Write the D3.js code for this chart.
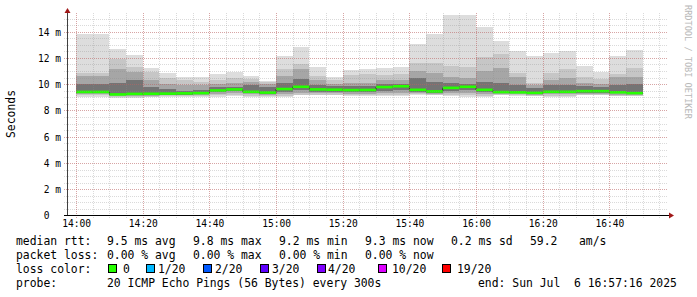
<!DOCTYPE html>
<html>
<head>
<meta charset="utf-8">
<script src="https://cdn.jsdelivr.net/npm/d3@7"></script>
<style>
  body { margin: 0; background: #fff; }
  text { font-family: "DejaVu Sans Mono", monospace; white-space: pre; }
</style>
</head>
<body>
<svg id="chart" width="697" height="297"></svg>
<script>
// 5 minute slots (start time of each smoke column)
var slots = ["14:00","14:05","14:10","14:15","14:20","14:25","14:30","14:35","14:40","14:45",
             "14:50","14:55","15:00","15:05","15:10","15:15","15:20","15:25","15:30","15:35",
             "15:40","15:45","15:50","15:55","16:00","16:05","16:10","16:15","16:20","16:25",
             "16:30","16:35","16:40","16:45"];

// smoke levels in ms, outer to inner
var pingMax = [13.84,13.84,12.67,12.21,11.25,10.82,10.56,10.52,10.77,10.94,10.60,10.26,12.14,12.85,11.32,10.56,11.07,11.15,11.25,11.32,
               13.05,13.81,15.28,15.28,14.37,13.30,12.52,12.14,12.39,12.54,11.40,10.94,12.14,12.60];
var pingHi2 = [10.87,10.87,11.89,11.32,10.94,10.44,10.31,10.20,10.35,10.50,10.40,10.15,11.12,11.53,10.60,10.30,10.70,10.80,10.70,10.80,
               11.58,11.58,11.40,11.28,12.04,12.27,10.82,10.10,10.86,11.15,10.52,10.40,10.77,11.25];
var pingHi3 = [10.62,10.62,11.12,10.94,10.31,10.00, 9.95, 9.90,10.05,10.10,10.18,10.00,10.60,11.12,10.30,10.05,10.06,10.06,10.30,10.35,
               11.00,10.87,10.55,10.45,11.02,11.20,10.56, 9.90,10.30,10.44,10.10,10.00,10.52,10.56];
var pingHi4 = [10.00,10.00,10.10,10.31, 9.80, 9.60, 9.50, 9.55, 9.75, 9.80, 9.90, 9.80,10.10,10.40, 9.95, 9.85, 9.85, 9.85,10.00,10.05,
               10.50,10.20,10.10,10.05,10.18,10.10, 9.90, 9.70, 9.90, 9.95, 9.85, 9.80, 9.95,10.00];
var pingMed = [ 9.41, 9.41, 9.22, 9.26, 9.27, 9.28, 9.30, 9.32, 9.52, 9.60, 9.42, 9.36, 9.63, 9.80, 9.60, 9.58, 9.55, 9.56, 9.78, 9.84,
                9.57, 9.45, 9.72, 9.80, 9.57, 9.40, 9.38, 9.34, 9.42, 9.42, 9.47, 9.47, 9.38, 9.32];
var pingLo4 = [ 9.30, 9.30, 9.14, 9.16, 9.18, 9.20, 9.20, 9.22, 9.38, 9.45, 9.32, 9.25, 9.40, 9.55, 9.42, 9.40, 9.38, 9.38, 9.50, 9.55,
                9.40, 9.35, 9.50, 9.55, 9.40, 9.30, 9.30, 9.25, 9.32, 9.32, 9.35, 9.35, 9.30, 9.25];
var pingLo3 = [ 9.22, 9.22, 9.08, 9.10, 9.12, 9.14, 9.14, 9.15, 9.26, 9.32, 9.22, 9.16, 9.25, 9.35, 9.30, 9.30, 9.26, 9.26, 9.32, 9.35,
                9.30, 9.27, 9.32, 9.35, 9.25, 9.24, 9.22, 9.18, 9.22, 9.22, 9.26, 9.26, 9.20, 9.18];
var pingLo2 = [ 9.14, 9.14, 9.02, 9.04, 9.06, 9.08, 9.08, 9.09, 9.14, 9.20, 9.12, 9.08, 9.12, 9.20, 9.20, 9.20, 9.16, 9.16, 9.18, 9.20,
                9.22, 9.20, 9.18, 9.18, 9.12, 9.20, 9.16, 9.12, 9.12, 9.12, 9.20, 9.20, 9.12, 9.12];
var pingMin = [ 9.05, 9.05, 8.96, 8.98, 9.00, 9.02, 9.02, 9.02, 9.03, 9.08, 9.04, 9.02, 9.04, 9.15, 9.15, 9.15, 9.08, 9.08, 9.08, 9.08,
                9.20, 9.15, 9.08, 9.03, 9.03, 9.15, 9.12, 9.08, 9.03, 9.03, 9.15, 9.15, 9.08, 9.08];

var xTickLabels = ["14:00","14:20","14:40","15:00","15:20","15:40","16:00","16:20","16:40"];
var yTickValues = [0, 2, 4, 6, 8, 10, 12, 14];
var yTickLabels = ["0  ", "2 m", "4 m", "6 m", "8 m", "10 m", "12 m", "14 m"];

var rttStats = ["9.5 ms avg", "9.8 ms max", "9.2 ms min", "9.3 ms now", "0.2 ms sd"];
var lossStats = ["0.00 % avg", "0.00 % max", "0.00 % min", "0.00 % now"];
var lossLabels = ["0", "1/20", "2/20", "3/20", "4/20", "10/20", "19/20"];
var lossColors = ["#26ff00", "#00b8ff", "#0059ff", "#5e00ff", "#7e00ff", "#dd00ff", "#ff0000"];

var svg = d3.select("#chart");
svg.append("rect").attr("width", 697).attr("height", 297).attr("fill", "#fff");

var parseT = d3.timeParse("%H:%M:%S");
var tStart = parseT("13:57:16"), tEnd = parseT("16:57:16");
var x = d3.scaleTime().domain([tStart, tEnd]).range([67, 667]);
var y = d3.scaleLinear().domain([0, 15.42]).range([215.5, 13]);

var cols = slots.map(function(s, i) {
  var t0 = parseT(s + ":00");
  return { t0: t0, t1: d3.timeMinute.offset(t0, 5), i: i };
});

// smoke
var bands = [
  { hi: pingMax, lo: pingMin, color: "#dddddd" },
  { hi: pingHi2, lo: pingLo2, color: "#c6c6c6" },
  { hi: pingHi3, lo: pingLo3, color: "#a6a6a6" },
  { hi: pingHi4, lo: pingLo4, color: "#747474" }
];
var smoke = svg.append("g").attr("shape-rendering", "crispEdges");
bands.forEach(function(b) {
  smoke.append("g").selectAll("rect")
    .data(cols)
    .enter().append("rect")
    .attr("x", function(d) { return x(d.t0); })
    .attr("width", function(d) { return x(d.t1) - x(d.t0); })
    .attr("y", function(d) { return y(b.hi[d.i]); })
    .attr("height", function(d) { return y(b.lo[d.i]) - y(b.hi[d.i]); })
    .attr("fill", b.color);
});

// median step line + loss coloured bar
var medPts = [];
cols.forEach(function(d) {
  medPts.push([x(d.t0), y(pingMed[d.i])]);
  medPts.push([x(d.t1), y(pingMed[d.i])]);
});
svg.append("path")
  .attr("d", d3.line()(medPts))
  .attr("fill", "none")
  .attr("stroke", "#202020")
  .attr("stroke-width", 1);
svg.append("g").selectAll("rect")
  .data(cols)
  .enter().append("rect")
  .attr("x", function(d) { return x(d.t0); })
  .attr("width", function(d) { return x(d.t1) - x(d.t0); })
  .attr("y", function(d) { return y(pingMed[d.i]) - 1.3; })
  .attr("height", 2.6)
  .attr("fill", lossColors[0]);

// grid (drawn over the smoke like rrdtool)
var grid = svg.append("g").attr("shape-rendering", "crispEdges");
var minorT = x.ticks(d3.timeMinute.every(5));
var majorT = x.ticks(d3.timeMinute.every(20));
grid.selectAll(".vmin").data(minorT).enter().append("line")
  .attr("x1", function(d) { return Math.round(x(d)) + 0.5; })
  .attr("x2", function(d) { return Math.round(x(d)) + 0.5; })
  .attr("y1", 13).attr("y2", 218)
  .attr("stroke", "rgba(140,140,140,0.32)").attr("stroke-dasharray", "1,1");
var yMinor = d3.range(1, 31).map(function(v) { return v / 2; });
grid.selectAll(".hmin").data(yMinor).enter().append("line")
  .attr("x1", 64).attr("x2", 667)
  .attr("y1", function(d) { return Math.round(y(d)) + 0.5; })
  .attr("y2", function(d) { return Math.round(y(d)) + 0.5; })
  .attr("stroke", "rgba(140,140,140,0.32)").attr("stroke-dasharray", "1,1");
grid.selectAll(".vmaj").data(majorT).enter().append("line")
  .attr("x1", function(d) { return Math.round(x(d)) + 0.5; })
  .attr("x2", function(d) { return Math.round(x(d)) + 0.5; })
  .attr("y1", 13).attr("y2", 218)
  .attr("stroke", "rgba(210,80,80,0.38)").attr("stroke-dasharray", "1,1");
grid.selectAll(".hmaj").data(yTickValues.slice(1)).enter().append("line")
  .attr("x1", 64).attr("x2", 667)
  .attr("y1", function(d) { return Math.round(y(d)) + 0.5; })
  .attr("y2", function(d) { return Math.round(y(d)) + 0.5; })
  .attr("stroke", "rgba(210,80,80,0.38)").attr("stroke-dasharray", "1,1");

// axes with arrows
svg.append("line").attr("x1", 67.5).attr("x2", 67.5).attr("y1", 216).attr("y2", 12)
  .attr("stroke", "#404040").attr("stroke-width", 1);
svg.append("line").attr("x1", 64).attr("x2", 669).attr("y1", 215.5).attr("y2", 215.5)
  .attr("stroke", "#000").attr("stroke-width", 1.2);
svg.append("path").attr("d", "M67.5,8 L64.5,13 L70.5,13 Z").attr("fill", "#a01818");
svg.append("path").attr("d", "M674,215.5 L669,212.5 L669,218.5 Z").attr("fill", "#a01818");

// axis labels
var xAxis = d3.axisBottom(x)
  .tickValues(xTickLabels.map(function(s) { return parseT(s + ":00"); }))
  .tickFormat(d3.timeFormat("%H:%M"))
  .tickSize(0).tickPadding(0);
var xg = svg.append("g").attr("transform", "translate(0,218)").call(xAxis);
xg.select(".domain").remove();
xg.selectAll("text").attr("font-family", "DejaVu Sans Mono").attr("font-size", "9.6px")
  .attr("fill", "#000").attr("dy", "9px");

var yAxis = d3.axisLeft(y)
  .tickValues(yTickValues)
  .tickFormat(function(d, i) { return yTickLabels[i]; })
  .tickSize(0).tickPadding(0);
var yg = svg.append("g").attr("transform", "translate(61,0)").call(yAxis);
yg.select(".domain").remove();
yg.selectAll("text").attr("font-family", "DejaVu Sans Mono").attr("font-size", "9.6px")
  .attr("fill", "#000").attr("dy", "0.35em");

svg.append("text")
  .attr("transform", "translate(15,114) rotate(-90)")
  .attr("text-anchor", "middle")
  .attr("font-size", "11.4px")
  .text("Seconds");

svg.append("text")
  .attr("transform", "translate(685,5) rotate(90)")
  .attr("font-size", "8.6px")
  .attr("fill", "#b8b8b8")
  .text("RRDTOOL / TOBI OETIKER");

// legend
var legend = svg.append("g").attr("font-size", "11.4px").attr("fill", "#000");
var colX = [107, 193, 279, 365, 451];
legend.append("text").attr("x", 16).attr("y", 245).text("median rtt:");
rttStats.forEach(function(s, i) {
  legend.append("text").attr("x", colX[i]).attr("y", 245).text(s);
});
legend.append("text").attr("x", 530).attr("y", 245).text("59.2");
legend.append("text").attr("x", 579).attr("y", 245).text("am/s");

legend.append("text").attr("x", 16).attr("y", 259).text("packet loss:");
lossStats.forEach(function(s, i) {
  legend.append("text").attr("x", colX[i]).attr("y", 259).text(s);
});

legend.append("text").attr("x", 16).attr("y", 273).text("loss color:");
var sqX = [108, 146, 203, 260, 317, 378, 442];
var lblX = [123, 158, 215, 272, 328, 392, 457];
lossLabels.forEach(function(s, i) {
  legend.append("rect").attr("x", sqX[i] + 0.5).attr("y", 264.5).attr("width", 8).attr("height", 8)
    .attr("fill", lossColors[i]).attr("stroke", "#000").attr("stroke-width", 1);
  legend.append("text").attr("x", lblX[i]).attr("y", 273).text(s);
});

legend.append("text").attr("x", 16).attr("y", 287).text("probe:");
legend.append("text").attr("x", 107).attr("y", 287).text("20 ICMP Echo Pings (56 Bytes) every 300s");
legend.append("text").attr("x", 478).attr("y", 287).text("end: Sun Jul  6 16:57:16 2025");
</script>
</body>
</html>
